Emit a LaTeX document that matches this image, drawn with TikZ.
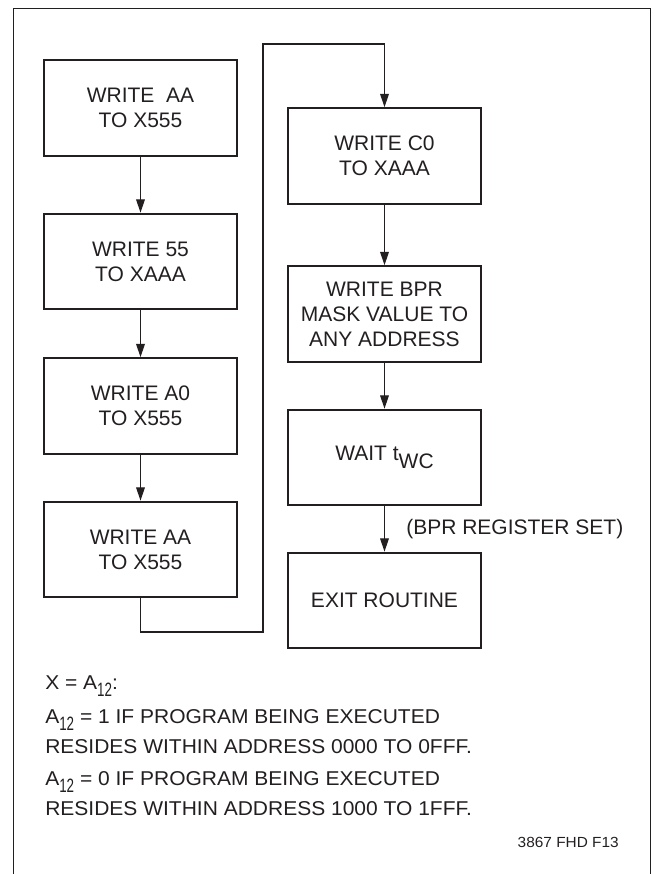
\documentclass[tikz,border=0pt]{standalone}
\usepackage{fontspec}
\usepackage{graphicx}
\setmainfont{Liberation Sans}
\newfontfamily\widefont[FakeStretch=1.05]{Liberation Sans}
\usetikzlibrary{arrows.meta}
\definecolor{ink}{HTML}{231F20}
\tikzset{
  stepbox/.style={draw=ink, line width=1.7pt, minimum width=144.75pt, minimum height=71.5pt,
    inner sep=0pt, align=center, text=ink, font=\fontsize{15.75pt}{18.75pt}\selectfont},
  flow/.style={draw=ink, line width=0.9pt, -{Triangle[length=10pt,width=6.5pt]}},
  note/.style={inner sep=0pt, text=ink, font=\widefont\fontsize{15pt}{18pt}\selectfont},
}
\newcommand{\Asub}{A\raisebox{-5.3pt}{\scalebox{0.66}[1]{\fontsize{14.5pt}{17pt}\selectfont 12}}}
\begin{document}
\begin{tikzpicture}[x=0.75pt,y=-0.75pt]
\useasboundingbox (0,0) rectangle (654,874);
% frame
\draw[draw=ink, line width=0.8pt] (13.3,874) -- (13.3,8.5) -- (650.5,8.5) -- (650.5,874);
% left column
\node[stepbox] (b1) at (140.5,108) {WRITE\ \ AA\\TO X555};
\node[stepbox] (b2) at (140.5,261.5) {WRITE 55\\TO XAAA};
\node[stepbox] (b3) at (140.5,406) {WRITE A0\\TO X555};
\node[stepbox] (b4) at (140.5,549.5) {WRITE AA\\TO X555};
% right column
\node[stepbox] (b5) at (384.5,156) {WRITE C0\\TO XAAA};
\node[stepbox] (b6) at (384.5,314) {WRITE BPR\\MASK VALUE TO\\ANY ADDRESS};
\node[stepbox] (b7) at (384.5,457.5) {WAIT t\raisebox{-6pt}{WC}};
\node[stepbox] (b8) at (384.5,600.5) {EXIT ROUTINE};
% connectors
\draw[flow] (b1) -- (b2);
\draw[flow] (b2) -- (b3);
\draw[flow] (b3) -- (b4);
\coordinate (lb) at (263,632);
\coordinate (lt) at (263,44);
\draw[flow] (b4.south) |- (lb) -- (lt) -| (b5.north);
\draw[flow] (b5) -- (b6);
\draw[flow] (b6) -- (b7);
\draw[flow] (b7) -- (b8);
\node[anchor=base west, inner sep=0pt, text=ink, font=\fontsize{15.75pt}{18.75pt}\selectfont] (lbl) at (406,534) {(BPR REGISTER SET)};
% notes
\node[note, anchor=base west] (n1) at (45,689) {X = \Asub:};
\node[note, anchor=base west] (n2) at (45,723) {\Asub\ = 1 IF PROGRAM BEING EXECUTED};
\node[note, anchor=base west] (n3) at (45,753) {RESIDES WITHIN ADDRESS 0000 TO 0FFF.};
\node[note, anchor=base west] (n4) at (45,785) {\Asub\ = 0 IF PROGRAM BEING EXECUTED};
\node[note, anchor=base west] (n5) at (45,815) {RESIDES WITHIN ADDRESS 1000 TO 1FFF.};
\node[note, anchor=base east, font=\widefont\fontsize{11pt}{13pt}\selectfont] (fig) at (619,847) {3867 FHD F13};
\end{tikzpicture}
\end{document}
